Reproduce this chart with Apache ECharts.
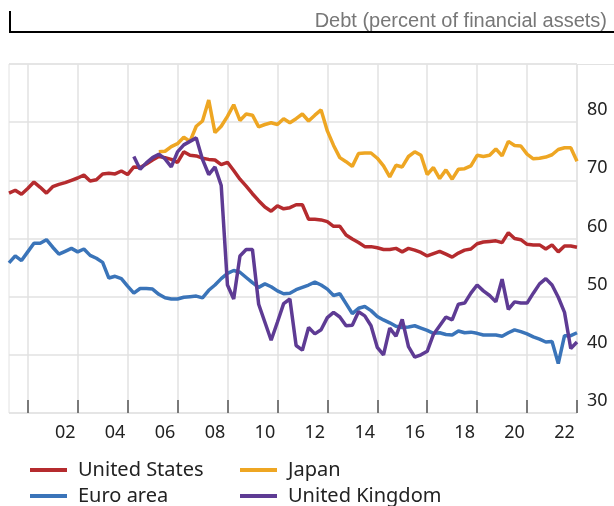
<!DOCTYPE html>
<html>
<head>
<meta charset="utf-8">
<script src="https://cdn.jsdelivr.net/npm/echarts@6/dist/echarts.min.js"></script>
<style>html,body{margin:0;padding:0;background:#fff}#c{width:614px;height:506px}</style>
</head>
<body>
<div id="c"></div>
<script>
// Quarterly periods 2000Q1 .. 2022Q4
const quarters = [];
for (let y = 2000; y <= 2022; y++) { for (let q = 1; q <= 4; q++) quarters.push(y + 'Q' + q); }

const seriesNames = ['United States', 'Euro area', 'Japan', 'United Kingdom'];

const usData = [67.8,68.3,67.6,68.6,69.7,68.8,67.8,68.9,69.3,69.6,70.0,70.4,70.9,69.9,70.1,71.1,71.2,71.1,71.6,71.0,72.3,72.2,72.8,73.5,74.1,
  73.9,73.6,73.1,74.9,74.3,74.2,73.8,73.6,73.5,72.7,73.1,71.7,70.2,69.0,67.7,66.5,65.4,64.7,65.6,65.1,65.3,65.8,65.8,63.3,63.3,63.2,62.9,62.1,62.1,60.6,59.9,59.3,58.6,58.6,58.4,58.1,58.1,58.3,57.7,58.3,58.0,57.6,57.0,57.4,57.8,57.3,56.8,57.5,58.0,58.2,59.1,59.4,59.5,59.6,59.3,61.0,60.0,59.8,59.0,58.9,58.9,58.2,58.9,57.7,58.7,58.7,58.5];

const euroData = [55.8,57.0,56.2,57.7,59.2,59.2,59.8,58.5,57.3,57.8,58.3,57.7,58.2,57.1,56.6,55.9,53.2,53.5,53.1,51.8,50.6,51.4,51.4,51.3,50.4,49.8,49.6,49.6,49.9,50.0,50.1,49.8,51.1,52.0,53.1,54.0,54.5,54.2,53.3,52.4,51.6,52.2,51.7,51.0,50.5,50.6,51.2,51.6,52.0,52.5,52.0,51.3,50.2,50.5,48.8,47.1,48.0,48.3,47.6,46.6,46.0,45.5,44.9,44.7,44.8,45.0,44.6,44.2,43.7,43.8,43.5,43.4,44.1,43.8,43.9,43.7,43.4,43.4,43.4,43.2,43.8,44.3,44.0,43.6,43.1,42.7,42.2,42.3,38.5,43.3,43.3,43.8];

const japanData = [null,null,null,null,null,null,null,null,null,null,null,null,null,null,null,null,null,null,null,null,null,null,null,null,
  74.9,75.0,75.8,76.3,77.4,76.7,79.3,80.2,83.8,78.2,79.3,81.0,83.0,80.3,81.4,81.2,79.2,79.6,79.9,79.6,80.6,79.9,80.6,81.4,80.2,81.2,82.1,78.5,76.0,73.9,73.2,72.4,74.6,74.7,74.7,73.8,72.5,70.6,72.6,72.3,74.1,74.9,74.3,71.0,72.2,70.3,71.8,70.2,71.9,72.0,72.5,74.3,74.1,74.3,75.4,74.2,76.7,76.0,75.9,74.5,73.7,73.8,74.0,74.4,75.3,75.6,75.6,73.3];

const ukData = [null,null,null,null,null,null,null,null,null,null,null,null,null,null,null,null,null,null,null,null,
  74.1,71.9,73.0,73.9,74.5,73.7,72.3,74.9,76.1,76.7,77.3,73.6,71.0,72.3,69.1,52.0,49.6,57.0,58.1,58.1,48.7,45.6,42.5,45.6,48.8,49.6,41.6,40.8,44.7,43.6,44.3,46.4,47.3,46.5,45.0,45.1,47.4,46.7,45.0,41.3,40.0,44.6,43.2,46.1,41.4,39.6,40.0,40.6,43.5,45.0,46.5,46.0,48.7,48.9,50.6,52.0,51.0,50.2,49.1,53.0,47.8,49.1,48.9,48.9,50.6,52.2,53.1,52.0,49.9,47.3,41.1,42.2];

const colors = { 'United States': '#b52b2e', 'Euro area': '#3a74b9', 'Japan': '#eea623', 'United Kingdom': '#5e3b94' };
const yMin = 30, yMax = 90, yStep = 10;
const unitText = 'Debt (percent of financial assets)';

const chart = echarts.init(document.getElementById('c'), null, { renderer: 'canvas' });

function mk(name, data) {
  return { name, type: 'line', data, showSymbol: false, symbol: 'none', connectNulls: false,
    lineStyle: { width: 3.5, color: colors[name] }, itemStyle: { color: colors[name] }, z: 3 };
}

const tickIdx = (i) => i % 8 === 3;
const labIdx = (i) => i >= 9 && (i - 9) % 8 === 0;

const legendText = { fontSize: 20, color: '#222', lineHeight: 20, padding: [0, 0, 0, 6], fontFamily: 'Noto Sans' };

chart.setOption({
  animation: false,
  textStyle: { fontFamily: 'Noto Sans' },
  grid: { left: 9, right: 37, top: 64, bottom: 93, show: true, borderColor: '#e2e2e2', borderWidth: 1 },
  xAxis: {
    type: 'category', data: quarters, boundaryGap: false,
    axisLine: { show: false },
    axisTick: { show: true, inside: true, length: 13, interval: tickIdx, lineStyle: { color: '#555', width: 1.5 } },
    axisLabel: { interval: labIdx, formatter: (v) => v.slice(2, 4), fontSize: 18, color: '#222', margin: 11, fontFamily: 'Noto Sans' },
    splitLine: { show: true, interval: tickIdx, lineStyle: { color: '#e2e2e2', width: 1.5 } }
  },
  yAxis: {
    type: 'value', position: 'right', min: yMin, max: yMax, interval: yStep,
    axisLine: { show: false }, axisTick: { show: false },
    axisLabel: { showMaxLabel: false, fontSize: 18, color: '#222', margin: 10, verticalAlign: 'bottom', padding: [0, 0, 3, 0], fontFamily: 'Noto Sans' },
    splitLine: { lineStyle: { color: '#e2e2e2', width: 1.5 } }
  },
  legend: [
    { data: ['United States', 'Euro area'], orient: 'vertical', left: 30, top: 460, padding: 0, height: 46, icon: 'rect', itemWidth: 37, itemHeight: 4, itemGap: 6, textStyle: legendText },
    { data: ['Japan', 'United Kingdom'], orient: 'vertical', left: 240, top: 460, padding: 0, height: 46, icon: 'rect', itemWidth: 37, itemHeight: 4, itemGap: 6, textStyle: legendText }
  ],
  graphic: [
    { type: 'rect', shape: { x: 9, y: 11, width: 2, height: 22 }, style: { fill: '#000' } },
    { type: 'rect', shape: { x: 9, y: 31, width: 605, height: 2 }, style: { fill: '#000' } },
    { type: 'rect', shape: { x: 577, y: 64, width: 37, height: 1 }, style: { fill: '#e2e2e2' } },
    { type: 'text', x: 607, y: 21, style: { text: unitText, fill: '#777', font: '20px "Liberation Sans", Arial, sans-serif', textAlign: 'right', textVerticalAlign: 'middle' } }
  ],
  series: [mk('United States', usData), mk('Euro area', euroData), mk('Japan', japanData), mk('United Kingdom', ukData)]
});
</script>
</body>
</html>
